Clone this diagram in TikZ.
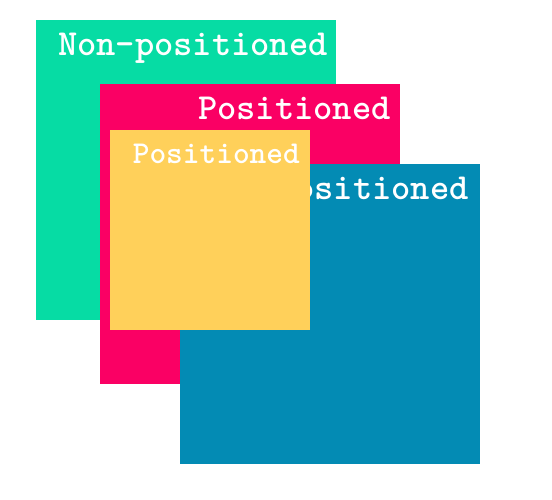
\documentclass[tikz,border=0pt]{standalone}
\usepackage{fontspec}
\definecolor{cgreen}{HTML}{06DCA4}
\definecolor{cpink}{HTML}{FA0064}
\definecolor{cblue}{HTML}{038BB4}
\definecolor{cyellow}{HTML}{FFD05A}
\begin{document}
\begin{tikzpicture}[x=1pt,y=-1pt,
  box/.style={draw=none, inner sep=0pt, minimum width=300pt, minimum height=300pt, anchor=north west},
  lbl/.style={text=white, font=\ttfamily\bfseries\fontsize{36.7}{36.7}\selectfont, anchor=base east, inner sep=0pt},
  slbl/.style={lbl, font=\ttfamily\bfseries\fontsize{31.8}{31.8}\selectfont}]
\useasboundingbox (0,0) rectangle (552,500);
\node[box, fill=cgreen] (green) at (36,20) {};
\node[lbl] (greenlbl) at (328,56) {Non-positioned};
\node[box, fill=cpink] (pink) at (100,84) {};
\node[lbl] (pinklbl) at (391,120) {Positioned};
\node[box, fill=cblue] (blue) at (180,164) {};
\node[lbl] (bluelbl) at (469,200) {Positioned};
\node[box, fill=cyellow, minimum width=200pt, minimum height=200pt] (yellow) at (110,130) {};
\node[slbl] (yellowlbl) at (300,164) {Positioned};
\end{tikzpicture}
\end{document}
